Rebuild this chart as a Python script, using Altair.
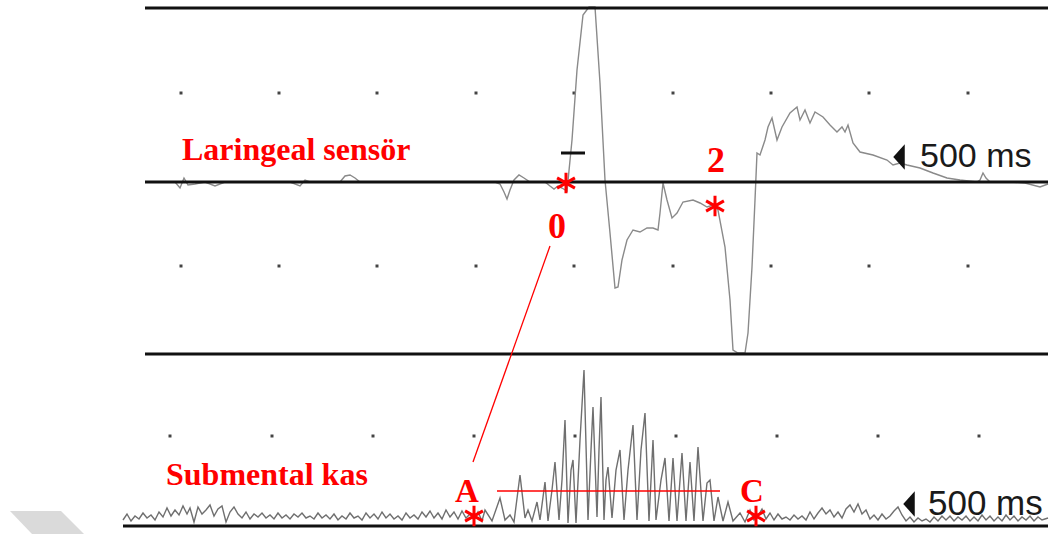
import altair as alt
import pandas as pd

W, H = 1051, 534

# ---------------- data (chart units: x = time position, y = screen-like amplitude, 0 at top) -------------
# thick black channel rails: x start, x end, level
rail_x0 = [145, 145, 145, 123]
rail_x1 = [1048, 1048, 1048, 1048]
rail_y = [8, 182, 354, 526]

# grid dots
upper_dot_x = [181, 279, 377, 476, 574, 673, 771, 869, 968]
upper_dot_rows = [93, 266]
lower_dot_x = [170, 272, 373, 474, 575, 676, 777, 878, 979]
lower_dot_rows = [436]

# laryngeal sensor trace (x, y)
laryngeal = [
    (145, 182), (175, 182), (180, 188), (184, 178), (188, 185), (195, 184), (205, 182), (215, 186),
    (225, 182), (290, 182), (300, 186), (305, 180), (310, 182), (340, 182), (345, 176), (350, 175),
    (355, 178), (360, 182), (420, 182), (495, 182), (500, 184), (504, 192), (507, 199), (510, 190),
    (514, 180), (519, 175), (524, 178), (530, 182), (545, 182), (550, 186), (554, 189), (558, 186),
    (562, 188), (567, 191), (572, 140), (577, 70), (583, 15), (589, 7), (595, 7), (600, 83),
    (605, 180), (610, 233), (615, 288), (618, 287), (622, 260), (627, 240), (633, 230), (640, 232),
    (647, 228), (653, 228), (658, 230), (660, 213), (663, 183), (667, 200), (672, 218), (677, 213),
    (683, 202), (693, 200), (700, 203), (707, 207), (713, 205), (718, 210), (725, 247), (730, 300),
    (733, 350), (738, 353), (745, 353), (748, 333), (752, 267), (755, 200), (757, 153), (760, 155),
    (765, 140), (768, 127), (772, 118), (777, 140), (782, 127), (790, 113), (797, 107), (800, 120),
    (805, 110), (810, 123), (815, 112), (823, 117), (830, 125), (837, 132), (842, 127), (845, 132),
    (848, 125), (853, 143), (860, 152), (873, 155), (887, 160), (893, 165), (900, 163), (907, 165),
    (920, 168), (933, 173), (947, 178), (960, 180), (977, 182), (980, 180), (983, 173), (986, 178),
    (990, 182), (1010, 182), (1025, 183), (1040, 187), (1048, 184),
]

# submental muscle EMG trace (x, y)
submental = [
    (123, 520), (127, 514), (131, 521), (135, 516), (139, 519), (143, 513), (147, 518), (151, 515),
    (155, 520), (159, 512), (163, 517), (167, 508), (171, 516), (175, 510), (179, 515), (183, 506),
    (187, 514), (190, 508), (194, 522), (198, 507), (202, 514), (206, 510), (210, 505), (214, 516),
    (218, 509), (222, 506), (226, 522), (230, 512), (234, 507), (238, 514), (242, 518), (246, 512),
    (250, 519), (254, 514), (258, 517), (262, 513), (266, 518), (270, 515), (274, 519), (278, 513),
    (282, 518), (286, 515), (290, 519), (294, 514), (298, 517), (302, 513), (306, 518), (310, 516),
    (314, 519), (318, 513), (322, 518), (326, 515), (330, 519), (334, 514), (338, 520), (342, 516),
    (346, 519), (350, 513), (354, 518), (358, 516), (362, 520), (366, 513), (370, 518), (374, 514),
    (378, 519), (382, 512), (386, 518), (390, 514), (394, 519), (398, 516), (402, 520), (406, 513),
    (410, 518), (414, 515), (418, 519), (422, 512), (426, 517), (430, 511), (434, 518), (438, 513),
    (442, 519), (446, 510), (450, 517), (454, 512), (458, 519), (462, 511), (466, 518), (470, 514),
    (474, 520), (478, 512), (482, 521),
    # swallowing burst
    (485, 510), (492, 521), (500, 498), (505, 520), (510, 515), (514, 522), (520, 475), (525, 518),
    (528, 510), (532, 521), (537, 502), (540, 520), (545, 482), (548, 521), (552, 490), (555, 462),
    (559, 520), (562, 480), (565, 420), (568, 523), (571, 470), (573, 460), (576, 523), (580, 440),
    (584, 370), (588, 520), (591, 450), (593, 407), (597, 517), (599, 450), (601, 397), (604, 520),
    (606, 480), (608, 467), (612, 518), (616, 470), (620, 450), (624, 520), (628, 470), (633, 425),
    (637, 520), (641, 450), (645, 413), (649, 521), (653, 440), (656, 520), (661, 480), (665, 458),
    (669, 521), (673, 458), (677, 521), (682, 453), (686, 521), (690, 462), (694, 521), (698, 447),
    (703, 521), (707, 483), (710, 480), (714, 521), (718, 497), (723, 521), (728, 502), (733, 521),
    (740, 513), (745, 522), (750, 510), (754, 520),
    # resting activity after
    (758, 516), (762, 509), (766, 519), (770, 513), (774, 520), (778, 514), (782, 519), (786, 517),
    (790, 520), (794, 515), (798, 519), (802, 516), (806, 520), (810, 512), (814, 519), (818, 513),
    (822, 508), (826, 514), (830, 510), (834, 517), (838, 512), (842, 518), (846, 509), (850, 505),
    (854, 512), (858, 504), (862, 514), (866, 510), (870, 519), (874, 515), (878, 520), (882, 514),
    (886, 519), (890, 516), (894, 511), (898, 507), (902, 515), (906, 521), (910, 517), (914, 522),
    (918, 518), (922, 521), (926, 519), (930, 522), (934, 517), (938, 521), (942, 516), (946, 520),
    (950, 516), (954, 521), (958, 517), (962, 520), (966, 516), (970, 521), (974, 517), (978, 521),
    (982, 515), (986, 520), (990, 516), (994, 521), (998, 517), (1002, 521), (1006, 515), (1010, 520),
    (1014, 516), (1018, 521), (1022, 517), (1026, 520), (1030, 516), (1034, 521), (1038, 517),
    (1042, 520), (1048, 518),
]

# annotations
title_texts = ["Laringeal sensör", "Submental kas"]
title_x = [182, 166]
title_y = [160, 485]
title_size = [32, 32]

mark_labels = ["0", "2", "A", "C"]
mark_label_x = [557, 716, 467, 752]
mark_label_y = [238, 172, 502, 502]
mark_label_size = [36, 36, 33, 33]

asterisk_x = [566, 715, 474, 756]
asterisk_y = [183, 206, 516, 516]

scale_texts = ["500 ms", "500 ms"]
scale_x = [920, 928]
scale_y = [167, 515]
scale_size = [34, 35]
arrow_x = [899, 909]
arrow_y = [157, 504]

# red connector 0 -> A, and A–C span line
connector = {"x": 550, "y": 246, "x2": 473, "y2": 462}
span = {"x": 497, "x2": 720, "y": 491}

# black marker dash on laryngeal channel
dash = {"x": 561, "x2": 585, "y": 153}

# watermark parallelogram (y, left x, right x)
wm_y = [511, 534]
wm_left = [10, 32]
wm_right = [61, 84]

# ---------------- chart -------------
xs = alt.Scale(domain=[0, W], range=[0, W], nice=False, zero=False)
ys = alt.Scale(domain=[0, H], range=[0, H], nice=False, zero=False)


def X(f="x"):
    return alt.X(f"{f}:Q", scale=xs, axis=None)


def Y(f="y"):
    return alt.Y(f"{f}:Q", scale=ys, axis=None)


wm_df = pd.DataFrame({"y": wm_y, "x": wm_left, "x2": wm_right})
watermark = alt.Chart(wm_df).mark_area(color="#dadada", orient="horizontal").encode(
    y=Y(), x=X(), x2="x2:Q"
)

rails_df = pd.DataFrame({"x": rail_x0, "x2": rail_x1, "y": rail_y})
rails = alt.Chart(rails_df).mark_rule(color="#111111", strokeWidth=3).encode(
    x=X(), x2="x2:Q", y=Y()
)

dots_rows = []
for r in upper_dot_rows:
    for xv in upper_dot_x:
        dots_rows.append({"x": xv, "y": r})
for r in lower_dot_rows:
    for xv in lower_dot_x:
        dots_rows.append({"x": xv, "y": r})
dots = alt.Chart(pd.DataFrame(dots_rows)).mark_square(
    color="#444444", size=9, opacity=1
).encode(x=X(), y=Y())

lar_df = pd.DataFrame(laryngeal, columns=["x", "y"])
lar_df["i"] = range(len(lar_df))
lar = alt.Chart(lar_df).mark_line(color="#8a8a8a", strokeWidth=1.4).encode(
    x=X(), y=Y(), order="i:Q"
)

sub_df = pd.DataFrame(submental, columns=["x", "y"])
sub_df["i"] = range(len(sub_df))
sub = alt.Chart(sub_df).mark_line(color="#6f6f6f", strokeWidth=1.4).encode(
    x=X(), y=Y(), order="i:Q"
)

dash_layer = alt.Chart(pd.DataFrame([dash])).mark_rule(color="#111111", strokeWidth=3).encode(
    x=X(), x2="x2:Q", y=Y()
)

conn_layer = alt.Chart(pd.DataFrame([connector])).mark_rule(color="#ff0000", strokeWidth=1.3).encode(
    x=X(), y=Y(), x2="x2:Q", y2="y2:Q"
)
span_layer = alt.Chart(pd.DataFrame([span])).mark_rule(color="#ff0000", strokeWidth=1.5).encode(
    x=X(), x2="x2:Q", y=Y()
)

title_layers = []
for t, xv, yv, s in zip(title_texts, title_x, title_y, title_size):
    title_layers.append(
        alt.Chart(pd.DataFrame({"t": [t], "x": [xv], "y": [yv]})).mark_text(
            font="Liberation Serif", fontWeight="bold", fontSize=s, color="#ff0000",
            align="left", baseline="alphabetic"
        ).encode(x=X(), y=Y(), text="t:N")
    )

label_layers = []
for t, xv, yv, s in zip(mark_labels, mark_label_x, mark_label_y, mark_label_size):
    label_layers.append(
        alt.Chart(pd.DataFrame({"t": [t], "x": [xv], "y": [yv]})).mark_text(
            font="Liberation Serif", fontWeight="bold", fontSize=s, color="#ff0000",
            align="center", baseline="alphabetic"
        ).encode(x=X(), y=Y(), text="t:N")
    )

ast_path = "M0,-1L0,1M-0.87,-0.5L0.87,0.5M-0.87,0.5L0.87,-0.5"
asterisks = alt.Chart(pd.DataFrame({"x": asterisk_x, "y": asterisk_y})).mark_point(
    shape=ast_path, size=420, stroke="#ff0000", strokeWidth=3, filled=False, opacity=1
).encode(x=X(), y=Y())

scale_layers = []
for t, xv, yv, s in zip(scale_texts, scale_x, scale_y, scale_size):
    scale_layers.append(
        alt.Chart(pd.DataFrame({"t": [t], "x": [xv], "y": [yv]})).mark_text(
            font="Liberation Sans", fontSize=s, color="#1a1a1a", align="left", baseline="alphabetic"
        ).encode(x=X(), y=Y(), text="t:N")
    )

tri_path = "M0.45,-1L-0.45,0L0.45,1Z"
arrows = alt.Chart(pd.DataFrame({"x": arrow_x, "y": arrow_y})).mark_point(
    shape=tri_path, size=650, filled=True, color="#111111", opacity=1
).encode(x=X(), y=Y())

chart = alt.layer(
    watermark, dots, lar, sub, rails, dash_layer, conn_layer, span_layer,
    *title_layers, *label_layers, asterisks, *scale_layers, arrows
).properties(
    width=W, height=H, padding=0, autosize=alt.AutoSizeParams(type="none"),
    background="white"
).configure_view(stroke=None)

chart.save("out.html", embed_options={"renderer": "svg", "actions": False})
